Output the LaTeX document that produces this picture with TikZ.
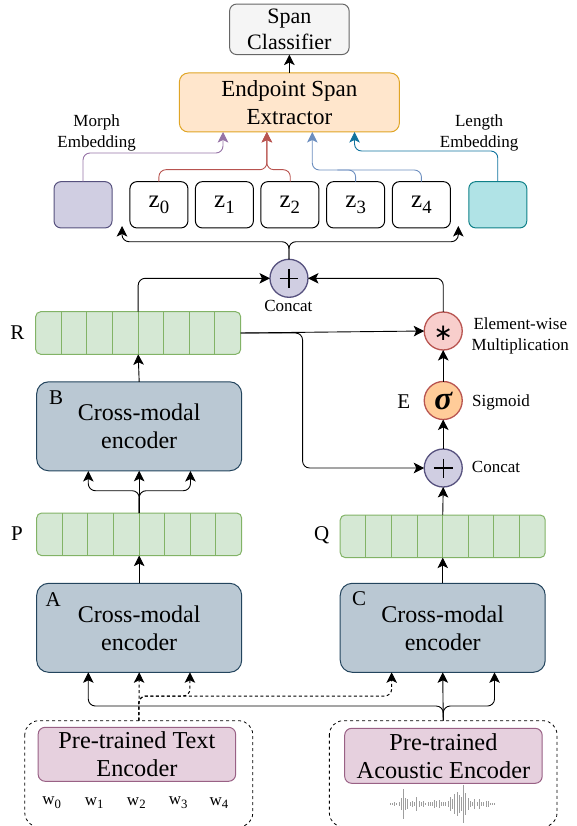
\documentclass[tikz,border=0pt]{standalone}
\usepackage{fontspec}
\setmainfont{Liberation Serif}
\newfontfamily\symfont{DejaVu Sans}
\usetikzlibrary{arrows.meta,calc}
\definecolor{bluefill}{HTML}{BAC8D3}\definecolor{blueline}{HTML}{23445D}
\definecolor{greenfill}{HTML}{D5E8D4}\definecolor{greenline}{HTML}{82B366}
\definecolor{purplefill}{HTML}{D0CEE2}\definecolor{purpleline}{HTML}{56517E}
\definecolor{orangefill}{HTML}{FFE6CC}\definecolor{orangeline}{HTML}{E0A526}
\definecolor{pinkfill}{HTML}{E6D0DE}\definecolor{pinkline}{HTML}{996185}
\definecolor{redfill}{HTML}{F8CECC}\definecolor{redline}{HTML}{B85450}
\definecolor{sigfill}{HTML}{FFCC99}
\definecolor{greyfill}{HTML}{F5F5F5}\definecolor{greyline}{HTML}{666666}
\definecolor{tealfill}{HTML}{B0E3E6}\definecolor{tealline}{HTML}{0E8088}
\definecolor{arrowpurple}{HTML}{9673A6}\definecolor{arrowblue}{HTML}{6C8EBF}\definecolor{arrowteal}{HTML}{10739E}
\newcommand{\subtxt}[2]{#1\raisebox{-0.22em}{\fontsize{0.75em}{1em}\selectfont #2}}
\newcommand{\smalltxt}{\fontsize{17}{21}\selectfont}
\tikzset{
  x=0.992pt,y=-1pt,
  base/.style={rectangle,rounded corners=7pt,line width=1pt,inner sep=0pt,outer sep=0pt,align=center,font=\fontsize{24}{28}\selectfont},
  encbox/.style={base,rounded corners=12pt,draw=blueline,fill=bluefill,minimum width=205pt,minimum height=89pt},
  barbox/.style={base,rounded corners=5pt,draw=greenline,fill=greenfill,minimum width=205pt,minimum height=42.6pt},
  zbox/.style={base,draw=black,fill=white,minimum width=58pt,minimum height=46.3pt,font=\fontsize{25}{28}\selectfont},
  pinkbox/.style={base,draw=pinkline,fill=pinkfill,minimum width=197.5pt,minimum height=54pt,font=\fontsize{24.3}{28}\selectfont},
  dashbox/.style={rectangle,rounded corners=14pt,draw=black,dashed,line width=0.8pt},
  opcircle/.style={circle,line width=1.3pt,inner sep=0pt,outer sep=0pt,minimum size=38pt},
  lbl/.style={inner sep=0pt,align=center,font=\smalltxt},
  lettr/.style={inner sep=0pt,font=\fontsize{21}{24}\selectfont},
  conn/.style={line width=0.9pt,rounded corners=7pt,-{Stealth[length=10.5pt,width=10.5pt,inset=2.5pt]}},
  plain/.style={line width=0.9pt,rounded corners=7pt},
  dconn/.style={conn,line width=1pt,dash pattern=on 3pt off 2.5pt},
  cell/.style={draw=greenline,line width=0.8pt},
}
\begin{document}
\begin{tikzpicture}
\useasboundingbox (0pt,0pt) rectangle (576pt,-826pt);
% dashed containers
\draw[dashbox] (25,720.7) rectangle (254.8,827);
\draw[dashbox] (332,720.7) rectangle (561.5,827);
% top
\node[base,draw=greyline,fill=greyfill,minimum width=119.5pt,minimum height=50.5pt,font=\fontsize{22}{26.5}\selectfont] (cls) at (291.7,29.3) {Span\\Classifier};
\node[base,rounded corners=9pt,draw=orangeline,fill=orangefill,minimum width=220pt,minimum height=59pt,font=\fontsize{23}{28}\selectfont] (ext) at (291.7,102.5) {Endpoint Span\\Extractor};
\draw[conn] (ext.north) -- (cls.south);
% embedding row
\node[zbox,draw=purpleline,fill=purplefill] (morph) at (83.7,204.8) {};
\node[zbox] (z0) at (160.2,204.8) {\subtxt{z}{0}};
\node[zbox] (z1) at (226.2,204.8) {\subtxt{z}{1}};
\node[zbox] (z2) at (292.2,204.8) {\subtxt{z}{2}};
\node[zbox] (z3) at (358.5,204.8) {\subtxt{z}{3}};
\node[zbox] (z4) at (424.8,204.8) {\subtxt{z}{4}};
\node[zbox,draw=tealline,fill=tealfill] (len) at (501.8,204.8) {};
\node[lbl] (morphl) at (97.4,133) {Morph\\Embedding};
\node[lbl] (lenl) at (483,133) {Length\\Embedding};
\coordinate (extp) at (224.8,132);
\coordinate (extr) at (269,132);
\coordinate (extb) at (314.8,132);
\coordinate (extt) at (357.4,132);
\coordinate (z2t) at (292.6,181.7);
\coordinate (z3t) at (358.5,181.7);
\draw[conn,draw=arrowpurple] (morph.north) -- (83.7,153) -- (224.8,153) -- (extp);
\draw[conn,draw=redline] (z0.north) -- (160.2,169.7) -- (269,169.7) -- (extr);
\draw[conn,draw=redline] (z2t) -- (292.6,169.7) -- (269,169.7) -- (extr);
\draw[conn,draw=arrowblue] (z4.north) -- (424.8,170) -- (314.8,170) -- (extb);
\draw[plain,draw=arrowblue] (z3t) -- (358.5,170) -- (340,170);
\draw[conn,draw=arrowteal] (len.north) -- (501.8,151) -- (357.4,151) -- (extt);
% concat 1
\node[opcircle,draw=purpleline,fill=purplefill] (c1) at (291.3,278.3) {};
\draw[line width=1.1pt] ($(c1.center)+(-9.5,0)$) -- ($(c1.center)+(9.5,0)$) ($(c1.center)+(0,-9.5)$) -- ($(c1.center)+(0,9.5)$);
\node[lbl] (c1l) at (290.7,305.7) {Concat};
\coordinate (ltip) at (123,226);
\coordinate (rtip) at (462,226);
\draw[conn] (c1.north) -- (291.3,241.7) -- (123,241.7) -- (ltip);
\draw[conn] (c1.north) -- (291.3,241.7) -- (462,241.7) -- (rtip);
% bars
\foreach \n/\cx/\cy/\t in {R/139.3/333/R,P/140.3/534.3/P,Q/446.3/536.3/Q}{
  \node[barbox] (\n) at (\cx,\cy) {};
  \foreach \i in {1,...,7}
    \draw[cell] ($(\n.north west)+(\i*25.8,0)$) -- ($(\n.south west)+(\i*25.8,0)$);
}
\node[lettr] (Rl) at (17.4,333) {R};
\node[lettr] (Pl) at (17,534) {P};
\node[lettr] (Ql) at (324.4,535) {Q};
% encoders
\node[encbox] (B) at (140.3,426.3) {Cross-modal\\encoder};
\node[lettr] (Bl) at (56.7,398) {B};
\node[encbox] (A) at (140.3,627.8) {Cross-modal\\encoder};
\node[lettr] (Al) at (53.7,600) {A};
\node[encbox] (C) at (446.3,627.8) {Cross-modal\\encoder};
\node[lettr] (Cl) at (362,599) {C};
% right column operators
\node[opcircle,draw=redline,fill=redfill] (mul) at (446.8,331) {};
\node[inner sep=0pt,font=\symfont\fontsize{23}{23}\selectfont] (mulsym) at (446.8,333.5) {∗};
\node[opcircle,draw=redline,fill=sigfill] (sig) at (446.8,400.5) {\fontsize{33}{33}\selectfont\bfseries\itshape σ};
\node[opcircle,draw=purpleline,fill=purplefill] (c2) at (446.8,468) {};
\draw[line width=1.1pt] ($(c2.center)+(-9.5,0)$) -- ($(c2.center)+(9.5,0)$) ($(c2.center)+(0,-9.5)$) -- ($(c2.center)+(0,9.5)$);
\node[lbl] (mull) at (524.5,336) {Element-wise\\Multiplication};
\node[lbl] (sigl) at (505,402) {Sigmoid};
\node[lbl] (c2l) at (500,467) {Concat};
\node[lettr] (El) at (407,402) {E};
% main connectors
\draw[conn] (R.north) -- (139.3,278.3) -- (c1.west);
\draw[conn] (mul.north) -- (446.8,278.3) -- (c1.east);
\draw[conn] (R.east) -- (mul.west);
\draw[conn] (R.east) -- (305,333) -- (305,468) -- (c2.west);
\draw[conn] (B.north) -- (R.south);
\draw[conn] (sig.north) -- (mul.south);
\draw[conn] (c2.north) -- (sig.south);
\draw[conn] (Q.north) -- (c2.south);
\draw[conn] (A.north) -- (P.south);
\draw[conn] (C.north) -- (Q.south);
% P to B
\coordinate (bl) at (89,471);
\coordinate (br) at (192,471);
\draw[conn] (P.north) -- (B.south);
\draw[conn] (P.north) -- (140.3,490.7) -- (89,490.7) -- (bl);
\draw[conn] (P.north) -- (140.3,490.7) -- (192,490.7) -- (br);
% pre-trained encoders
\node[pinkbox] (txt) at (138,754.3) {Pre-trained Text\\Encoder};
\node[pinkbox,minimum height=55pt] (aco) at (447,755.8) {Pre-trained\\Acoustic Encoder};
\foreach \i/\px in {0/52,1/95,2/137.4,3/179.6,4/220.7}
  \node[inner sep=0pt,font=\fontsize{17}{20}\selectfont] (w\i) at (\px,803) {\subtxt{w}{\i}};
% input connectors
\coordinate (tsrc) at (140,720.7);
\coordinate (asrc) at (446.8,720.7);
\coordinate (al) at (89,672.3);
\coordinate (ar) at (191.5,672.3);
\coordinate (cl) at (394.8,672.3);
\coordinate (cr) at (498.5,672.3);
\draw[conn] (asrc) -- (C.south);
\draw[conn] (asrc) -- (446.8,706) -- (89,706) -- (al);
\draw[conn] (asrc) -- (446.8,706) -- (498.5,706) -- (cr);
\draw[dconn] (tsrc) -- (A.south);
\draw[dconn] (tsrc) -- (140,696) -- (191.5,696) -- (ar);
\draw[dconn] (tsrc) -- (140,696) -- (394.8,696) -- (cl);
% waveform
\foreach \i/\h in {0/1,1/1,2/2,3/1,4/2,5/6,6/15,7/6,8/5,9/2,10/3,11/2,12/7,13/3,14/2,15/3,16/1,17/2,18/2,19/2,20/4,21/3,22/4,23/2,24/2,25/2,26/3,27/7,28/5,29/10,30/12,31/9,32/7,33/19,34/11,35/6,36/3,37/2,38/5,39/2,40/5,41/2,42/2,43/3,44/3,45/1,46/1,47/1}
  \draw[black!38,line width=0.55pt] (393+\i*2.25,804.3-\h) -- (393+\i*2.25,804.3+\h);
\end{tikzpicture}
\end{document}
